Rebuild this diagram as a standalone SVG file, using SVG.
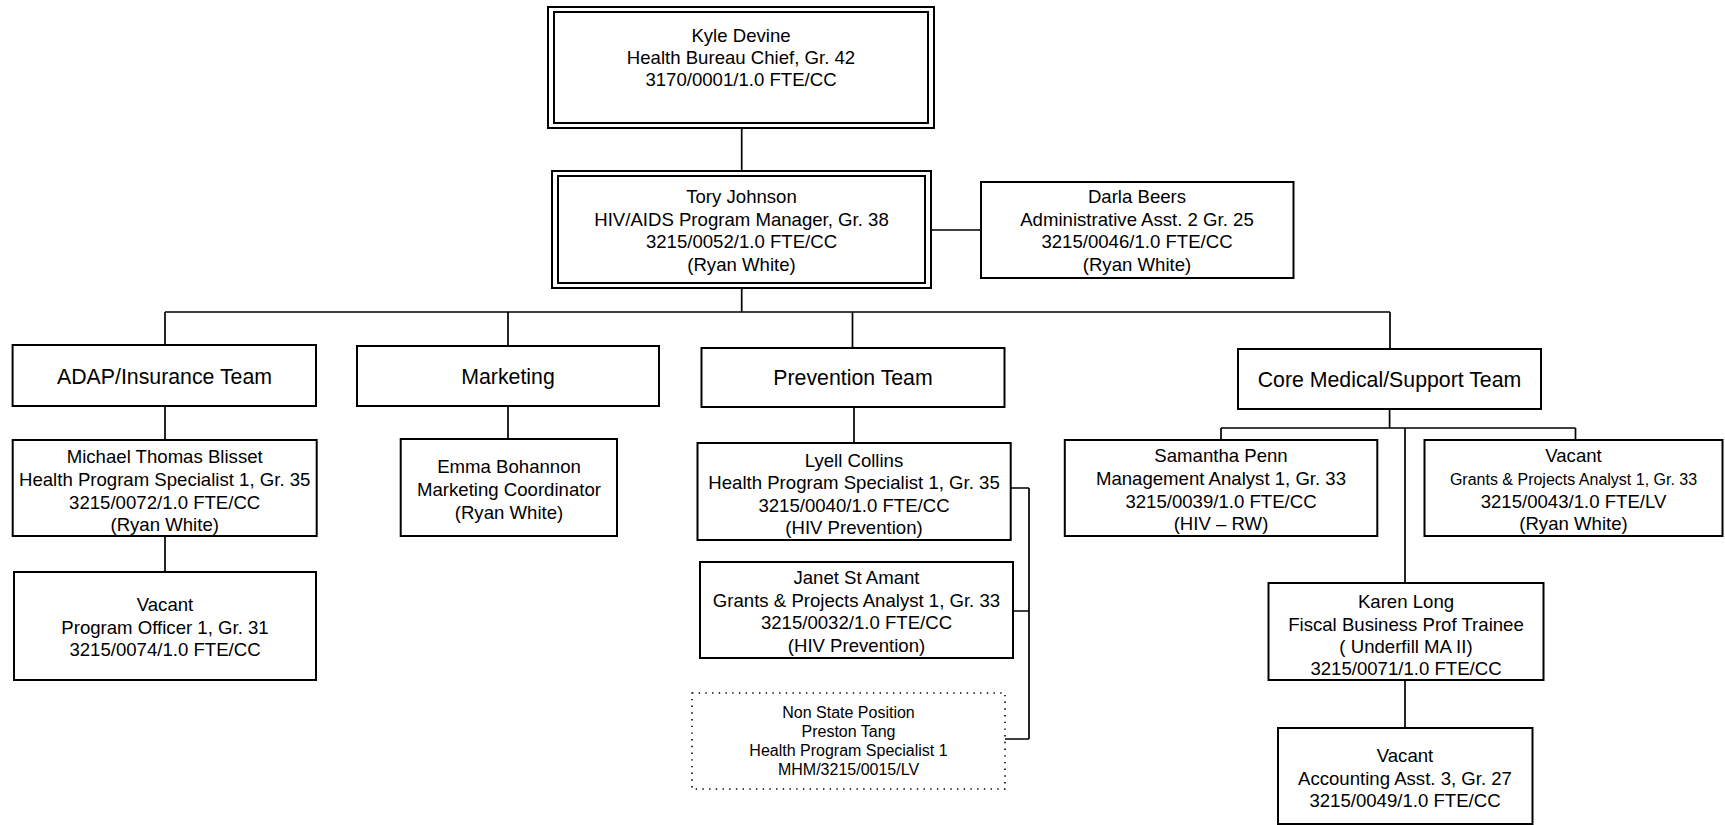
<svg xmlns="http://www.w3.org/2000/svg" width="1725" height="825" viewBox="0 0 1725 825">
<style>
.box{fill:#fff;stroke:#000;stroke-width:2}
.dot{fill:#fff;stroke:#000;stroke-width:1.6;stroke-dasharray:1.4 5.3}
.ln{fill:none;stroke:#000;stroke-width:1.7}
text{font-family:"Liberation Sans",Arial,sans-serif;fill:#000;text-anchor:middle}
.t{font-size:18.6px}
.h{font-size:21.3px}
.s{font-size:16px}
</style>
<rect width="1725" height="825" fill="#fff"/>
<g id="connectors">
<path class="ln" d="M741.7 128V171M741.7 288V312M165 312H1390M165 312V345M508 312V346M852.5 312V348M1390 312V349M931 230H981M165 406V440M165 536V572M508 406V439M854 407V443M1010.7 488H1029M1013 611H1029M1005 739H1029M1029 488V739M1389.6 409V428M1221 428H1575.5M1221 428V440M1575.5 428V440M1405 428V583M1405 680V728"/>
</g>
<g id="kyle">
<rect class="box" x="548" y="7" width="386" height="121"/>
<rect class="box" x="554" y="12" width="374" height="111"/>
<text class="t" x="741" y="42">Kyle Devine</text>
<text class="t" x="741" y="64">Health Bureau Chief, Gr. 42</text>
<text class="t" x="741" y="86">3170/0001/1.0 FTE/CC</text>
</g>
<g id="tory">
<rect class="box" x="552" y="171" width="379" height="117"/>
<rect class="box" x="558" y="176" width="367" height="107"/>
<text class="t" x="741.5" y="203">Tory Johnson</text>
<text class="t" x="741.5" y="225.5">HIV/AIDS Program Manager, Gr. 38</text>
<text class="t" x="741.5" y="248">3215/0052/1.0 FTE/CC</text>
<text class="t" x="741.5" y="270.5">(Ryan White)</text>
</g>
<g id="darla">
<rect class="box" x="981" y="182" width="312.5" height="96"/>
<text class="t" x="1137" y="203">Darla Beers</text>
<text class="t" x="1137" y="225.5">Administrative Asst. 2 Gr. 25</text>
<text class="t" x="1137" y="248">3215/0046/1.0 FTE/CC</text>
<text class="t" x="1137" y="270.5">(Ryan White)</text>
</g>
<g id="adap">
<rect class="box" x="12.6" y="345" width="303.4" height="61"/>
<text class="h" x="164.5" y="383.5">ADAP/Insurance Team</text>
</g>
<g id="marketing">
<rect class="box" x="357" y="346" width="302" height="60"/>
<text class="h" x="508" y="384">Marketing</text>
</g>
<g id="prevention">
<rect class="box" x="701.5" y="348" width="303" height="59"/>
<text class="h" x="853" y="385">Prevention Team</text>
</g>
<g id="core">
<rect class="box" x="1238" y="349" width="303" height="60"/>
<text class="h" x="1389.5" y="386.5">Core Medical/Support Team</text>
</g>
<g id="michael">
<rect class="box" x="12.7" y="440" width="304" height="96"/>
<text class="t" x="164.7" y="463">Michael Thomas Blisset</text>
<text class="t" x="164.7" y="486">Health Program Specialist 1, Gr. 35</text>
<text class="t" x="164.7" y="508.5">3215/0072/1.0 FTE/CC</text>
<text class="t" x="164.7" y="531">(Ryan White)</text>
</g>
<g id="vacant-po">
<rect class="box" x="14" y="572" width="302" height="108"/>
<text class="t" x="165" y="611">Vacant</text>
<text class="t" x="165" y="633.5">Program Officer 1, Gr. 31</text>
<text class="t" x="165" y="655.5">3215/0074/1.0 FTE/CC</text>
</g>
<g id="emma">
<rect class="box" x="400.7" y="439" width="216.3" height="97"/>
<text class="t" x="509" y="473">Emma Bohannon</text>
<text class="t" x="509" y="496">Marketing Coordinator</text>
<text class="t" x="509" y="519">(Ryan White)</text>
</g>
<g id="lyell">
<rect class="box" x="697.5" y="443" width="313.2" height="97"/>
<text class="t" x="854" y="467">Lyell Collins</text>
<text class="t" x="854" y="489">Health Program Specialist 1, Gr. 35</text>
<text class="t" x="854" y="511.5">3215/0040/1.0 FTE/CC</text>
<text class="t" x="854" y="534">(HIV Prevention)</text>
</g>
<g id="janet">
<rect class="box" x="700" y="562" width="313" height="96"/>
<text class="t" x="856.5" y="584">Janet St Amant</text>
<text class="t" x="856.5" y="607">Grants &amp; Projects Analyst 1, Gr. 33</text>
<text class="t" x="856.5" y="629">3215/0032/1.0 FTE/CC</text>
<text class="t" x="856.5" y="652">(HIV Prevention)</text>
</g>
<g id="preston">
<rect class="dot" x="692" y="693" width="313" height="96"/>
<text class="s" x="848.5" y="717.5">Non State Position</text>
<text class="s" x="848.5" y="736.5">Preston Tang</text>
<text class="s" x="848.5" y="755.5">Health Program Specialist 1</text>
<text class="s" x="848.5" y="774.5">MHM/3215/0015/LV</text>
</g>
<g id="samantha">
<rect class="box" x="1064.8" y="440" width="312.5" height="96"/>
<text class="t" x="1221" y="462">Samantha Penn</text>
<text class="t" x="1221" y="485">Management Analyst 1, Gr. 33</text>
<text class="t" x="1221" y="507.5">3215/0039/1.0 FTE/CC</text>
<text class="t" x="1221" y="530">(HIV – RW)</text>
</g>
<g id="vacant-gpa">
<rect class="box" x="1424.5" y="440" width="298" height="96"/>
<text class="t" x="1573.5" y="462">Vacant</text>
<text class="s" x="1573.5" y="484.5">Grants &amp; Projects Analyst 1, Gr. 33</text>
<text class="t" x="1573.5" y="507.5">3215/0043/1.0 FTE/LV</text>
<text class="t" x="1573.5" y="530">(Ryan White)</text>
</g>
<g id="karen">
<rect class="box" x="1268.5" y="583" width="275" height="97"/>
<text class="t" x="1406" y="608">Karen Long</text>
<text class="t" x="1406" y="630.5">Fiscal Business Prof Trainee</text>
<text class="t" x="1406" y="653">( Underfill MA II)</text>
<text class="t" x="1406" y="675">3215/0071/1.0 FTE/CC</text>
</g>
<g id="vacant-aa">
<rect class="box" x="1278" y="728" width="254.5" height="96"/>
<text class="t" x="1405" y="762">Vacant</text>
<text class="t" x="1405" y="785">Accounting Asst. 3, Gr. 27</text>
<text class="t" x="1405" y="807">3215/0049/1.0 FTE/CC</text>
</g>
</svg>
